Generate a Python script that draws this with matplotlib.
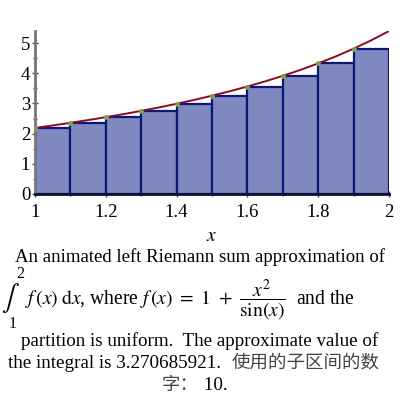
import matplotlib
matplotlib.use("Agg")
import matplotlib.pyplot as plt
from matplotlib.ticker import MultipleLocator

# Data
left_x = [1.0, 1.1, 1.2, 1.3, 1.4, 1.5, 1.6, 1.7, 1.8, 1.9]
bar_heights = [2.188, 2.358, 2.545, 2.754, 2.989, 3.256, 3.561, 3.914, 4.327, 4.815]
curve_x = [1.0, 1.05, 1.1, 1.15, 1.2, 1.25, 1.3, 1.35, 1.4, 1.45, 1.5,
           1.55, 1.6, 1.65, 1.7, 1.75, 1.8, 1.85, 1.9, 1.95, 2.0]
curve_y = [2.188, 2.271, 2.358, 2.449, 2.545, 2.646, 2.754, 2.868, 2.989, 3.118, 3.256,
           3.403, 3.561, 3.731, 3.914, 4.112, 4.327, 4.560, 4.815, 5.093, 5.399]
x_ticks = [1, 1.2, 1.4, 1.6, 1.8, 2]
x_tick_labels = ["1", "1.2", "1.4", "1.6", "1.8", "2"]
y_ticks = [0, 1, 2, 3, 4, 5]

plt.rcParams['font.family'] = ['Liberation Serif', 'Noto Sans CJK SC']
plt.rcParams['mathtext.fontset'] = 'stix'

fig = plt.figure(figsize=(4, 4), dpi=100)
ax = fig.add_axes([0.0875, 0.515, 0.885, 0.4075])

ax.bar(left_x, bar_heights, width=0.1, align='edge', color='#7f88bf',
       edgecolor='#0b1877', linewidth=1.6, zorder=2)
ax.plot(curve_x, curve_y, color='#8c0a1e', lw=1.4, zorder=3)
ax.plot(left_x, bar_heights, 'o', color='#7fa24a', ms=2.5, zorder=4)

ax.set_xlim(1, 2)
ax.set_ylim(0, 5.4)
ax.set_xticks(x_ticks)
ax.set_xticklabels(x_tick_labels)
ax.set_yticks(y_ticks)
ax.xaxis.set_minor_locator(MultipleLocator(0.1))
ax.yaxis.set_minor_locator(MultipleLocator(0.5))
for s in ['top', 'right']:
    ax.spines[s].set_visible(False)
ax.spines['left'].set_color('#777777')
ax.spines['left'].set_linewidth(2)
ax.spines['bottom'].set_color('#0b1230')
ax.spines['bottom'].set_linewidth(2)
ax.tick_params(axis='both', which='major', direction='inout', length=5, width=1,
               color='#444444', labelsize=13.5, pad=1)
ax.tick_params(axis='both', which='minor', direction='inout', length=3, width=1,
               color='#444444')
ax.tick_params(axis='x', pad=5)
ax.set_xlabel('$x$', fontsize=14, labelpad=5)

# Caption text
fig.text(0.5, 0.3575, "An animated left Riemann sum approximation of",
         ha='center', va='center', fontsize=13.5)
# integral sign with limits
fig.text(10 / 400, 1 - 298 / 400, r"$\int$", ha='center', va='center', fontsize=19)
fig.text(20.5 / 400, 1 - 274 / 400, "2", ha='center', va='center', fontsize=11.5)
fig.text(13 / 400, 1 - 324 / 400, "1", ha='center', va='center', fontsize=11.5)
fig.text(25 / 400, 1 - 304 / 400,
         r"$f\,(x)\;\mathrm{d}x$, where $f\,(x)\ =\ 1\ +\ \dfrac{x^2}{\sin(x)}$  and the",
         ha='left', va='baseline', fontsize=14.1)
fig.text(0.5, 0.1475, "partition is uniform.  The approximate value of",
         ha='center', va='center', fontsize=13.7)
t4 = fig.text(0.02, 0.0925, "the integral is 3.270685921.",
              ha='left', va='center', fontsize=13.7)
ax.annotate("使用的子区间的数", xy=(1, 0), xycoords=t4, xytext=(8, 0),
            textcoords='offset points', ha='left', va='bottom', fontsize=13.3,
            color='#444444', family=['Noto Sans CJK SC'], annotation_clip=False)
t5 = fig.text(0.405, 0.0375, "字：", ha='left', va='center', fontsize=13.3,
              color='#444444', family=['Noto Sans CJK SC'])
ax.annotate(" 10.", xy=(1, 0), xycoords=t5, xytext=(0, 0),
            textcoords='offset points', ha='left', va='bottom', fontsize=13.7,
            annotation_clip=False)

fig.savefig("out.png", dpi=100)
